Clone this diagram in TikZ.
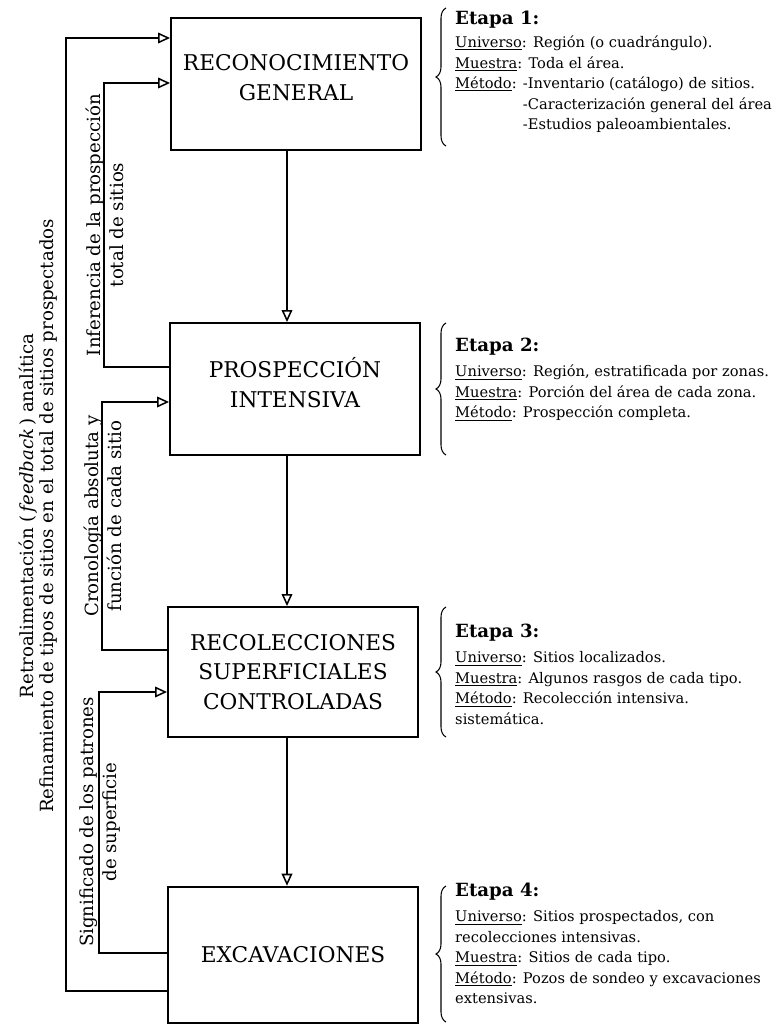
\documentclass[tikz,border=0pt]{standalone}
\usepackage{fontspec}
\setmainfont{DejaVu Serif}
\usetikzlibrary{arrows.meta,calc,decorations.pathreplacing}
\newcommand{\campo}[1]{\underline{#1}}
\newcommand{\sangria}{\phantom{\campo{Método}: }}
\newcommand{\titulo}{\bfseries\fontsize{15.5}{17}\selectfont}
\begin{document}
\begin{tikzpicture}[x=0.3mm,y=-0.3mm,
  etapa/.style={draw,line width=1.6pt,minimum width=75mm,minimum height=39.6mm,align=center,font=\fontsize{18.5}{25}\selectfont},
  flujo/.style={-{Triangle[open,length=3.6mm,width=3.2mm]},line width=1.3pt},
  rotulo/.style={rotate=90,align=center,inner sep=0pt,font=\fontsize{15.5}{19.6}\selectfont},
  nota/.style={anchor=north west,inner sep=0pt,align=left,font=\fontsize{12.5}{17.5}\selectfont},
  llave/.style={decorate,decoration={brace,amplitude=3mm},line width=0.9pt}]
  \useasboundingbox (0,0) rectangle (779,1029);
  % cajas de las etapas
  \node[etapa,text depth=4mm] (b1) at (296,84) {RECONOCIMIENTO\\GENERAL};
  \node[etapa,text depth=4mm] (b2) at (295,389) {PROSPECCIÓN\\INTENSIVA};
  \node[etapa,minimum height=39mm] (b3) at (293,672) {RECOLECCIONES\\SUPERFICIALES\\CONTROLADAS};
  \node[etapa,minimum height=41mm] (b4) at (293,955) {EXCAVACIONES};
  \coordinate (eje) at (287,0);
  % secuencia principal
  \draw[flujo] (b1.south -| eje) -- (b2.north -| eje);
  \draw[flujo] (b2.south -| eje) -- (b3.north -| eje);
  \draw[flujo] (b3.south -| eje) -- (b4.north -| eje);
  % retroalimentaciones
  \draw[flujo] ($(b2.west)+(0,-22)$) -- ++(-65,0) |- ($(b1.west)+(0,-1)$);
  \draw[flujo] ($(b3.west)+(0,-22)$) -- ++(-65,0) |- ($(b2.west)+(0,13)$);
  \draw[flujo] ($(b4.west)+(0,-2)$) -- ++(-68,0) |- ($(b3.west)+(0,20)$);
  \draw[flujo] ($(b4.west)+(0,36)$) -- ++(-101,0) |- ($(b1.west)+(0,-46)$);
  \node[rotulo] (inf) at (105,225) {Inferencia de la prospección\\total de sitios};
  \node[rotulo] (cro) at (103,516) {Cronología absoluta y\\función de cada sitio};
  \node[rotulo] (sig) at (100,822) {Significado de los patrones\\de superficie};
  \node[rotulo,font=\fontsize{15.5}{17.5}\selectfont] (ret) at (38,516)
    {Retroalimentación (\,\textit{feedback}\,) analítica\\Refinamiento de tipos de sitios en el total de sitios prospectados};
  % descripciones
  \node[nota] (e1) at (455,11) {{\titulo Etapa 1:}\\[2pt]
    \campo{Universo}: Región (o cuadrángulo).\\
    \campo{Muestra}: Toda el área.\\
    \campo{Método}: -Inventario (catálogo) de sitios.\\
    \sangria-Caracterización general del área\\
    \sangria-Estudios paleoambientales.};
  \node[nota] (e2) at (455,338) {{\titulo Etapa 2:}\\[4pt]
    \campo{Universo}: Región, estratificada por zonas.\\
    \campo{Muestra}: Porción del área de cada zona.\\
    \campo{Método}: Prospección completa.};
  \node[nota] (e3) at (455,624) {{\titulo Etapa 3:}\\[4pt]
    \campo{Universo}: Sitios localizados.\\
    \campo{Muestra}: Algunos rasgos de cada tipo.\\
    \campo{Método}: Recolección intensiva.\\
    sistemática.};
  \node[nota] (e4) at (455,883) {{\titulo Etapa 4:}\\[4pt]
    \campo{Universo}: Sitios prospectados, con\\
    recolecciones intensivas.\\
    \campo{Muestra}: Sitios de cada tipo.\\
    \campo{Método}: Pozos de sondeo y excavaciones\\
    extensivas.};
  \draw[llave] (446,146) -- (446,8);
  \draw[llave] (446,455) -- (446,323);
  \draw[llave] (446,737) -- (446,607);
  \draw[llave] (446,1022) -- (446,886);
\end{tikzpicture}
\end{document}
